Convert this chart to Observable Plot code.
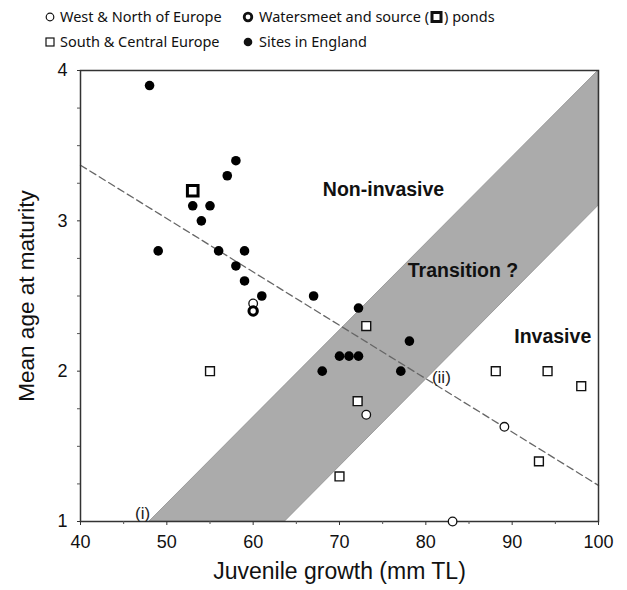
<!DOCTYPE html>
<html>
<head>
<meta charset="utf-8">
<script src="https://cdn.jsdelivr.net/npm/d3@7"></script>
<script src="https://cdn.jsdelivr.net/npm/@observablehq/plot@0.6"></script>
<style>
  body { margin: 0; background: #fff; }
  #legend { position: relative; width: 627px; height: 55px; font-family: "Noto Sans", "Open Sans", sans-serif; font-size: 14.5px; color: #111; }
  #legend .icon { position: absolute; }
  #legend .txt { position: absolute; white-space: nowrap; line-height: 20px; }
  #chart svg { display: block; }
</style>
</head>
<body>
<div id="legend"></div>
<div id="chart"></div>
<script>
// ---- Data ----
const westNorthX = [60, 73.1, 89.1, 83.1];
const westNorthY = [2.45, 1.71, 1.63, 1.0];

const southCentralX = [73.1, 55, 72.1, 70, 88.1, 94.1, 98, 93.1];
const southCentralY = [2.3, 2.0, 1.8, 1.3, 2.0, 2.0, 1.9, 1.4];

const englandX = [48, 53, 55, 54, 57, 58, 49, 56, 59, 58, 59, 61, 67, 72.2, 78.1, 70, 71.1, 72.2, 68, 77.1];
const englandY = [3.9, 3.1, 3.1, 3.0, 3.3, 3.4, 2.8, 2.8, 2.8, 2.7, 2.6, 2.5, 2.5, 2.42, 2.2, 2.1, 2.1, 2.1, 2.0, 2.0];

const watersmeetX = [60];
const watersmeetY = [2.4];
const sourcePondX = [53];
const sourcePondY = [3.2];

// regression (dashed) line end points
const trendX = [40, 100];
const trendY = [3.37, 1.24];

// transition band
const bandX = [48, 63.7, 100];
const bandLow = [1, 1, 3.1];
const bandHigh = [1, 1.906, 4];

// annotations
const zoneLabels = ["Non-invasive", "Transition ?", "Invasive"];
const zoneX = [75.1, 84.3, 94.7];
const zoneY = [3.21, 2.67, 2.23];
const markLabels = ["(i)", "(ii)"];
const markX = [47.2, 81.8];
const markY = [1.055, 1.96];

const xTicks = [40, 50, 60, 70, 80, 90, 100];
const xMinor = [45, 55, 65, 75, 85, 95];
const yTicks = [1, 2, 3, 4];
const yMinor = [1.25, 1.5, 1.75, 2.25, 2.5, 2.75, 3.25, 3.5, 3.75];

const xTitle = "Juvenile growth (mm TL)";
const yTitle = "Mean age at maturity";

const legendLabels = ["West & North of Europe", "Watersmeet and source (", "South & Central Europe", "Sites in England"];
const legendKinds = ["open", "thick", "square", "filled"];

// ---- Build tables ----
const pts = (xs, ys) => xs.map((x, i) => ({x, y: ys[i]}));
const westNorth = pts(westNorthX, westNorthY);
const southCentral = pts(southCentralX, southCentralY);
const england = pts(englandX, englandY);
const watersmeet = pts(watersmeetX, watersmeetY);
const sourcePond = pts(sourcePondX, sourcePondY);
const trend = pts(trendX, trendY);
const band = bandX.map((x, i) => ({x, lo: bandLow[i], hi: bandHigh[i]}));
const zones = zoneLabels.map((t, i) => ({t, x: zoneX[i], y: zoneY[i]}));
const marks = markLabels.map((t, i) => ({t, x: markX[i], y: markY[i]}));

// ---- Legend ----
const iconCx = [50, 248, 50, 248];
const iconCy = [17, 17, 42, 42];
const textX = [60, 259, 60, 259];
const legend = document.getElementById("legend");
legendKinds.forEach((kind, i) => {
  const ic = document.createElement("div");
  ic.className = "icon";
  ic.style.left = (iconCx[i] - 6) + "px";
  ic.style.top = (iconCy[i] - 6) + "px";
  let icon = "";
  if (kind === "open") icon = '<circle cx="6" cy="6" r="3.8" fill="white" stroke="#111" stroke-width="1.2"/>';
  if (kind === "thick") icon = '<circle cx="6" cy="6" r="3.8" fill="white" stroke="#111" stroke-width="2.8"/>';
  if (kind === "square") icon = '<rect x="2" y="2" width="8" height="8" fill="white" stroke="#111" stroke-width="1.2"/>';
  if (kind === "filled") icon = '<circle cx="6" cy="6" r="4.3" fill="#111"/>';
  ic.innerHTML = `<svg width="12" height="12" style="display:block">${icon}</svg>`;
  legend.appendChild(ic);
  const tx = document.createElement("div");
  tx.className = "txt";
  tx.style.left = textX[i] + "px";
  tx.style.top = (iconCy[i] - 11) + "px";
  let label = legendLabels[i];
  if (kind === "thick") {
    label = label + '<svg width="13" height="12" style="margin:0 1px;vertical-align:-1px"><rect x="2" y="1.5" width="9" height="9" fill="white" stroke="#111" stroke-width="3"/></svg>) ponds';
  }
  tx.innerHTML = label;
  legend.appendChild(tx);
});

// ---- Chart ----
const chart = Plot.plot({
  width: 627,
  height: 535,
  marginTop: 15,
  marginBottom: 69,
  marginLeft: 80,
  marginRight: 29,
  style: {fontFamily: "'Liberation Sans', Arial, sans-serif", background: "white"},
  x: {domain: [40, 100]},
  y: {domain: [1, 4]},
  marks: [
    Plot.areaY(band, {x: "x", y1: "lo", y2: "hi", fill: "#ababab", stroke: "#8f8f8f", strokeWidth: 0.8}),
    Plot.line(trend, {x: "x", y: "y", stroke: "#666", strokeWidth: 1.3, strokeDasharray: "7,4"}),
    Plot.frame({stroke: "#333", strokeWidth: 1.5}),
    Plot.axisX({ticks: xTicks, tickSize: 4, tickPadding: 10, fontSize: 18, label: null, stroke: "#333", color: "#111"}),
    Plot.axisX({ticks: xMinor, tickSize: 3, tickFormat: () => "", label: null, stroke: "#555"}),
    Plot.axisY({ticks: yTicks, tickSize: 3, tickPadding: 10, fontSize: 18, tickFormat: d => String(d), label: null, stroke: "#333", color: "#111"}),
    Plot.axisY({ticks: yMinor, tickSize: 3, tickFormat: () => "", label: null, stroke: "#555"}),
    Plot.text(zones, {x: "x", y: "y", text: "t", fontSize: 19.5, fontWeight: "bold", fill: "#111"}),
    Plot.text(marks, {x: "x", y: "y", text: "t", fontSize: 17, fill: "#222"}),
    Plot.dot(westNorth, {x: "x", y: "y", r: 4.3, fill: "white", stroke: "#111", strokeWidth: 1.3}),
    Plot.dot(southCentral, {x: "x", y: "y", symbol: "square", r: 5, fill: "white", stroke: "#111", strokeWidth: 1.4}),
    Plot.dot(england, {x: "x", y: "y", r: 4.8, fill: "#000"}),
    Plot.dot(watersmeet, {x: "x", y: "y", r: 4.2, fill: "white", stroke: "#000", strokeWidth: 3}),
    Plot.dot(sourcePond, {x: "x", y: "y", symbol: "square", r: 6, fill: "white", stroke: "#000", strokeWidth: 3}),
    Plot.text([xTitle], {frameAnchor: "bottom", dy: 57, fontSize: 23, fill: "#111"}),
    Plot.text([yTitle], {frameAnchor: "left", textAnchor: "middle", dx: -54, rotate: -90, fontSize: 22.5, fill: "#111"})
  ]
});
document.getElementById("chart").appendChild(chart);
</script>
</body>
</html>
